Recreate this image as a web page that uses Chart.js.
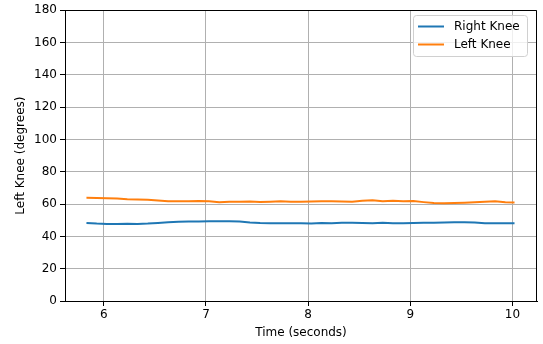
<!DOCTYPE html>
<html>
<head>
<meta charset="utf-8">
<script src="https://cdn.jsdelivr.net/npm/chart.js@4/dist/chart.umd.min.js"></script>
<style>
    html, body { margin: 0; padding: 0; background: #fff; }
    #wrap { width: 543px; height: 344px; }
</style>
</head>
<body>
<div id="wrap"><canvas id="kneeChart" width="543" height="344"></canvas></div>
<script>
/* ================= DATA ================= */
const times = [
    5.83, 5.93, 6.03, 6.13, 6.23, 6.33, 6.43, 6.53, 6.63, 6.73,
    6.83, 6.93, 7.03, 7.13, 7.23, 7.33, 7.43, 7.53, 7.63, 7.73,
    7.83, 7.93, 8.03, 8.13, 8.23, 8.33, 8.43, 8.53, 8.63, 8.73,
    8.83, 8.93, 9.03, 9.13, 9.23, 9.33, 9.43, 9.53, 9.63, 9.73,
    9.83, 9.93, 10.02
];

const rightKnee = [
    48.3, 47.9, 47.7, 47.7, 47.8, 47.7, 47.9, 48.3, 48.7, 49.1,
    49.2, 49.2, 49.4, 49.3, 49.4, 49.2, 48.6, 48.3, 48.2, 48.2,
    48.2, 48.1, 48.0, 48.3, 48.2, 48.4, 48.4, 48.3, 48.2, 48.4,
    48.1, 48.2, 48.3, 48.5, 48.5, 48.6, 48.7, 48.7, 48.6, 48.2,
    48.1, 48.2, 48.2
];

const leftKnee = [
    63.9, 63.8, 63.6, 63.4, 63.0, 62.8, 62.7, 62.2, 61.8, 61.8,
    61.7, 61.9, 61.7, 61.2, 61.4, 61.5, 61.6, 61.3, 61.5, 61.7,
    61.5, 61.4, 61.6, 61.8, 61.7, 61.6, 61.5, 62.0, 62.4, 61.8,
    62.0, 61.8, 61.9, 61.2, 60.6, 60.5, 60.6, 60.8, 61.1, 61.5,
    61.7, 61.2, 61.0
];

const xTicks = [6, 7, 8, 9, 10];
const seriesNames = ["Right Knee", "Left Knee"];

/* ================= HELPERS ================= */
const FONT = "'DejaVu Sans', sans-serif";

function toPoints(ys) {
    return times.map((t, i) => ({ x: t, y: ys[i] }));
}

/* top and right spines, the axes draw the other two */
const framePlugin = {
    id: "frame",
    afterDraw(chart) {
        const { ctx, chartArea: a } = chart;
        ctx.save();
        ctx.strokeStyle = "#000";
        ctx.lineWidth = 1;
        ctx.beginPath();
        ctx.moveTo(a.left, Math.round(a.top) + 0.5);
        ctx.lineTo(Math.round(a.right) - 0.5, Math.round(a.top) + 0.5);
        ctx.lineTo(Math.round(a.right) - 0.5, a.bottom);
        ctx.stroke();
        ctx.restore();
    }
};

/* legend box in the upper right corner */
const boxLegend = {
    id: "boxLegend",
    afterDraw(chart) {
        const { ctx } = chart;
        const x = 413, y = 15.5, w = 114, h = 41, r = 3;
        ctx.save();
        ctx.beginPath();
        ctx.roundRect(x + 0.5, y, w, h, r);
        ctx.fillStyle = "rgba(255,255,255,0.8)";
        ctx.fill();
        ctx.strokeStyle = "#d0d0d0";
        ctx.lineWidth = 1;
        ctx.stroke();

        ctx.font = "12px " + FONT;
        ctx.textBaseline = "middle";
        chart.data.datasets.forEach((ds, i) => {
            const ly = 26.5 + i * 18;
            ctx.strokeStyle = ds.borderColor;
            ctx.lineWidth = 2;
            ctx.beginPath();
            ctx.moveTo(418, ly);
            ctx.lineTo(444, ly);
            ctx.stroke();
            ctx.fillStyle = "#000";
            ctx.fillText(ds.label, 454, ly + 0.5);
        });
        ctx.restore();
    }
};

/* ================= CHART ================= */
new Chart(document.getElementById("kneeChart"), {
    type: "line",
    data: {
        datasets: [
            {
                label: seriesNames[0],
                data: toPoints(rightKnee),
                borderColor: "#1f77b4",
                borderWidth: 2,
                pointRadius: 0,
                tension: 0
            },
            {
                label: seriesNames[1],
                data: toPoints(leftKnee),
                borderColor: "#ff7f0e",
                borderWidth: 2,
                pointRadius: 0,
                tension: 0
            }
        ]
    },
    options: {
        responsive: false,
        animation: false,
        events: [],
        layout: { padding: { top: 10, right: 6, left: 0, bottom: 0 } },
        plugins: {
            legend: { display: false },
            tooltip: { enabled: false }
        },
        scales: {
            x: {
                type: "linear",
                min: 5.62,
                max: 10.24,
                afterBuildTicks: s => { s.ticks = xTicks.map(v => ({ value: v })); },
                afterFit: s => { s.height = 43; },
                grid: { color: "#b0b0b0", lineWidth: 1, tickColor: "#000", tickLength: 5 },
                border: { color: "#000", width: 1 },
                ticks: { color: "#000", font: { family: FONT, size: 12 }, padding: 2, maxRotation: 0 },
                title: {
                    display: true,
                    text: "Time (seconds)",
                    color: "#000",
                    font: { family: FONT, size: 12 },
                    padding: { top: 0, bottom: 4 }
                }
            },
            y: {
                min: 0,
                max: 180,
                afterFit: s => { s.width = 65; },
                grid: { color: "#b0b0b0", lineWidth: 1, tickColor: "#000", tickLength: 5 },
                border: { color: "#000", width: 1 },
                ticks: { stepSize: 20, color: "#000", font: { family: FONT, size: 12 }, padding: 3 },
                title: {
                    display: true,
                    text: "Left Knee (degrees)",
                    color: "#000",
                    font: { family: FONT, size: 12 },
                    padding: { top: 14, bottom: 0 }
                }
            }
        }
    },
    plugins: [framePlugin, boxLegend]
});
</script>
</body>
</html>
